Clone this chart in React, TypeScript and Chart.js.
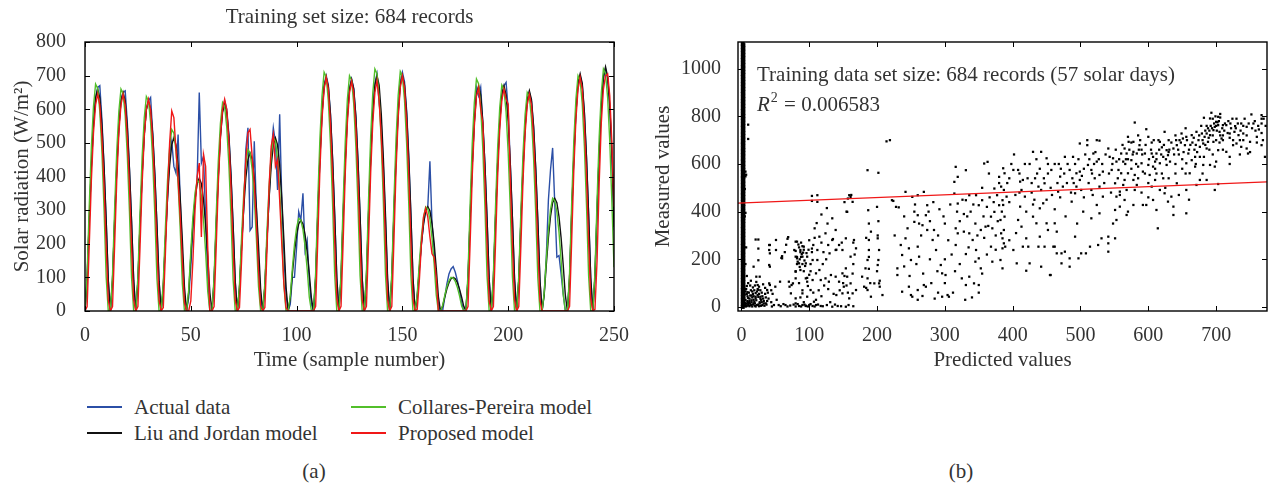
import React, { useEffect, useRef } from 'react';
import { Chart, registerables } from 'chart.js';

Chart.register(...registerables);

const FONT = '"Liberation Serif", "Times New Roman", serif';
const TEXT = '#333333';
const LABEL_SIZE = 21;
const TICK_SIZE = 20;

// ---------------- Panel (a) data: solar radiation per sample ----------------
const A_TITLE = 'Training set size: 684 records';
const A_X_TITLE = 'Time (sample number)';
const A_Y_TITLE = 'Solar radiation (W/m²)';
const A_X_TICKS = [0, 50, 100, 150, 200, 250];
const A_Y_TICKS = [0, 100, 200, 300, 400, 500, 600, 700, 800];
const SAMPLES = Array.from({ length: 251 }, (_, i) => i);

const ACTUAL = [
  0, 100, 270, 430, 555, 635, 665, 670, 570, 430, 270, 90,
  0, 92, 268, 425, 548, 628, 650, 655, 560, 425, 268, 92,
  0, 88, 256, 406, 525, 600, 625, 635, 530, 406, 256, 88,
  0, 70, 210, 335, 470, 505, 430, 410, 525, 330, 170, 30,
  0, 40, 130, 250, 330, 390, 650, 440, 460, 280, 100, 0,
  0, 88, 256, 406, 525, 600, 625, 600, 525, 406, 256, 88,
  0, 66, 193, 306, 480, 545, 240, 250, 505, 300, 150, 40,
  0, 72, 211, 335, 470, 545, 500, 360, 585, 330, 170, 50,
  0, 20, 100, 100, 190, 295, 270, 350, 180, 210, 90, 20,
  0, 98, 287, 455, 588, 672, 700, 672, 588, 455, 287, 98,
  0, 97, 283, 449, 580, 662, 690, 662, 580, 449, 283, 97,
  0, 99, 289, 458, 592, 677, 705, 620, 560, 430, 270, 90,
  0, 99, 291, 462, 596, 682, 710, 682, 596, 462, 291, 99,
  0, 40, 120, 200, 260, 300, 310, 445, 260, 180, 90, 20,
  0, 0, 40, 80, 110, 125, 132, 115, 90, 60, 25, 0,
  0, 94, 275, 436, 563, 665, 640, 665, 560, 436, 275, 94,
  0, 94, 275, 436, 563, 643, 670, 680, 600, 436, 275, 94,
  0, 91, 267, 423, 546, 624, 650, 624, 546, 423, 267, 91,
  0, 50, 160, 330, 420, 485, 320, 160, 165, 110, 50, 0,
  0, 98, 287, 455, 588, 672, 700, 672, 588, 455, 287, 98,
  0, 101, 295, 468, 605, 691, 720, 691, 605, 468, 240,
];

const LIU_JORDAN = [
  0, 92, 271, 429, 554, 634, 660, 634, 554, 429, 271, 92,
  0, 91, 267, 423, 546, 624, 650, 624, 546, 423, 267, 91,
  0, 88, 256, 406, 525, 600, 625, 600, 525, 406, 256, 88,
  0, 72, 211, 335, 433, 494, 515, 494, 433, 335, 211, 72,
  0, 55, 162, 257, 332, 379, 395, 379, 332, 257, 162, 55,
  0, 86, 252, 400, 517, 590, 615, 590, 517, 400, 252, 86,
  0, 66, 193, 306, 395, 451, 470, 451, 395, 306, 193, 66,
  0, 72, 211, 335, 433, 494, 515, 494, 433, 335, 211, 72,
  0, 38, 111, 176, 227, 259, 270, 259, 227, 176, 111, 38,
  0, 97, 285, 452, 584, 667, 695, 667, 584, 452, 285, 97,
  0, 96, 282, 447, 578, 660, 688, 660, 578, 447, 282, 96,
  0, 98, 287, 455, 588, 672, 700, 672, 588, 455, 287, 98,
  0, 98, 287, 455, 588, 672, 700, 672, 588, 455, 287, 98,
  0, 43, 127, 202, 260, 298, 310, 298, 260, 202, 127, 43,
  0, 14, 41, 65, 84, 96, 100, 96, 84, 65, 41, 14,
  0, 94, 275, 436, 563, 643, 670, 643, 563, 436, 275, 94,
  0, 94, 275, 436, 563, 643, 670, 643, 563, 436, 275, 94,
  0, 92, 269, 426, 550, 629, 655, 629, 550, 426, 269, 92,
  0, 47, 137, 218, 281, 322, 335, 322, 281, 218, 137, 47,
  0, 99, 289, 458, 592, 677, 705, 677, 592, 458, 289, 99,
  0, 102, 298, 472, 610, 697, 726, 697, 610, 472, 250,
];

const COLLARES_PEREIRA = [
  0, 108, 311, 486, 608, 675, 662, 594, 473, 304, 101, 0,
  0, 106, 304, 475, 594, 660, 647, 581, 462, 297, 99, 0,
  0, 102, 293, 459, 574, 638, 625, 561, 447, 287, 96, 0,
  0, 86, 248, 389, 486, 540, 529, 475, 378, 243, 81, 0,
  0, 62, 179, 281, 351, 390, 382, 343, 273, 176, 59, 0,
  0, 99, 285, 446, 558, 620, 608, 546, 434, 279, 93, 0,
  0, 77, 221, 346, 432, 480, 470, 422, 336, 216, 72, 0,
  0, 82, 237, 371, 464, 515, 505, 453, 361, 232, 77, 0,
  0, 44, 127, 198, 248, 275, 270, 242, 193, 124, 41, 0,
  0, 114, 327, 511, 639, 710, 696, 625, 497, 320, 107, 0,
  0, 112, 322, 504, 630, 700, 686, 616, 490, 315, 105, 0,
  0, 115, 331, 518, 648, 720, 706, 634, 504, 324, 108, 0,
  0, 114, 328, 513, 641, 712, 698, 627, 498, 320, 107, 0,
  0, 50, 143, 223, 279, 310, 304, 273, 217, 140, 47, 0,
  0, 16, 46, 72, 90, 100, 98, 88, 70, 45, 15, 0,
  0, 110, 317, 497, 621, 690, 676, 607, 483, 311, 104, 0,
  0, 108, 309, 484, 605, 672, 659, 591, 470, 302, 101, 0,
  0, 104, 299, 468, 585, 650, 637, 572, 455, 293, 98, 0,
  0, 54, 154, 241, 302, 335, 328, 295, 235, 151, 50, 0,
  0, 112, 322, 504, 630, 700, 686, 616, 490, 315, 105, 0,
  0, 115, 331, 518, 648, 720, 706, 634, 504, 324, 130,
];

const PROPOSED = [
  0, 13, 194, 387, 529, 613, 645, 613, 516, 374, 194, 32,
  0, 13, 194, 387, 529, 613, 645, 613, 516, 374, 194, 32,
  0, 13, 189, 378, 517, 599, 630, 599, 504, 365, 189, 32,
  0, 10, 170, 350, 500, 595, 575, 480, 390, 280, 150, 25,
  0, 0, 30, 150, 300, 400, 440, 220, 465, 430, 190, 0,
  0, 13, 189, 378, 517, 599, 630, 599, 504, 365, 189, 32,
  0, 10, 150, 320, 450, 530, 540, 460, 380, 260, 120, 15,
  0, 10, 180, 370, 490, 525, 430, 450, 330, 200, 80, 10,
  0, 0, 0, 0, 0, 0, 0, 0, 0, 0, 0, 0,
  0, 14, 209, 417, 570, 660, 695, 660, 556, 403, 209, 35,
  0, 14, 205, 410, 560, 649, 683, 649, 546, 396, 205, 34,
  0, 14, 205, 410, 560, 650, 685, 625, 520, 390, 205, 34,
  0, 14, 210, 420, 574, 665, 700, 665, 560, 406, 210, 35,
  0, 5, 90, 200, 280, 305, 280, 220, 170, 160, 100, 0,
  0, 0, 0, 0, 0, 0, 0, 0, 0, 0, 0, 0,
  0, 13, 200, 400, 550, 640, 665, 600, 560, 390, 200, 30,
  0, 13, 198, 396, 541, 627, 660, 630, 615, 390, 198, 33,
  0, 13, 194, 387, 529, 613, 645, 613, 516, 374, 194, 32,
  0, 0, 0, 0, 0, 0, 0, 0, 0, 0, 0, 0,
  0, 14, 209, 417, 570, 660, 695, 660, 556, 403, 209, 35,
  0, 5, 150, 380, 560, 660, 700, 705, 640, 500, 310,
];

const A_SERIES = [
  { label: 'Actual data', values: ACTUAL, color: '#2b4fa6', order: 4 },
  { label: 'Liu and Jordan model', values: LIU_JORDAN, color: '#111111', order: 3 },
  { label: 'Collares-Pereira model', values: COLLARES_PEREIRA, color: '#52bf2a', order: 2 },
  { label: 'Proposed model', values: PROPOSED, color: '#f01818', order: 1 },
];

// ---------------- Panel (b) data: measured vs predicted ----------------
const B_X_TITLE = 'Predicted values';
const B_Y_TITLE = 'Measured values';
const B_X_TICKS = [0, 100, 200, 300, 400, 500, 600, 700];
const B_Y_TICKS = [0, 200, 400, 600, 800, 1000];
const B_NOTE = 'Training data set size: 684 records (57 solar days)';
const B_R2 = '0.006583';
const FIT_LINE = [[-5, 436], [775, 525]];

// records whose prediction is ~0 (dense vertical column)
const COLUMN_PTS = [
  [2, 0], [2, 12], [2, 27], [2, 41], [2, 55], [2, 70], [2, 83], [2, 98], [2, 112], [2, 126],
  [2, 141], [2, 155], [2, 169], [2, 184], [2, 197], [2, 212], [2, 226], [2, 240], [2, 255], [2, 268],
  [2, 283], [2, 297], [2, 311], [2, 326], [2, 339], [2, 354], [2, 368], [2, 382], [2, 397], [2, 410],
  [2, 425], [2, 439], [2, 453], [2, 468], [2, 481], [2, 496], [2, 510], [2, 524], [2, 539], [2, 552],
  [2, 567], [2, 581], [2, 595], [2, 610], [2, 623], [2, 638], [2, 652], [2, 666], [2, 681], [2, 694],
  [2, 709], [2, 723], [2, 737], [2, 752], [2, 765], [2, 780], [2, 794], [2, 808], [2, 823], [2, 836],
  [2, 851], [2, 865], [2, 879], [2, 894], [2, 907], [2, 922], [2, 936], [2, 950], [2, 965], [2, 978],
  [2, 993], [2, 1007], [2, 1021], [2, 1036], [2, 1049], [2, 1064], [2, 1078], [2, 1092], [2, 1105],
  [3, 6], [3, 20], [3, 34], [3, 48], [3, 62], [3, 76], [3, 90], [3, 105], [3, 119], [3, 133],
  [3, 148], [3, 162], [3, 176], [3, 190], [3, 204], [3, 219], [3, 233], [3, 247], [3, 261], [3, 275],
  [3, 290], [3, 304], [3, 318], [3, 332], [3, 347], [3, 361], [3, 375], [3, 390], [3, 403], [3, 418],
  [3, 432], [3, 446], [3, 460], [3, 474], [3, 489], [3, 503], [3, 517], [3, 531], [3, 545], [3, 560],
  [3, 574], [3, 588], [3, 602], [3, 616], [3, 631], [3, 645], [3, 659], [3, 673], [3, 688], [3, 702],
  [3, 716], [3, 730], [3, 744], [3, 759], [3, 773], [3, 787], [3, 801], [3, 815], [3, 830], [3, 844],
  [3, 858], [3, 872], [3, 886], [3, 901], [3, 915], [3, 929], [3, 943], [3, 957], [3, 972], [3, 986],
  [3, 1000], [3, 1014], [3, 1028], [3, 1043], [3, 1057], [3, 1071], [3, 1085], [3, 1099],
];

const CLOUD_PTS = [
  // near origin
  [8, 5], [10, 12], [12, 3], [15, 20], [6, 30], [9, 45], [14, 8], [18, 15], [20, 5], [22, 28], [11, 60], [7, 75],
  [16, 40], [25, 10], [28, 35], [30, 60], [13, 90], [19, 70], [24, 50], [33, 15], [35, 80], [26, 85], [10, 100],
  [21, 2], [17, 55], [29, 5], [36, 40], [38, 25], [32, 95], [5, 18], [12, 35], [23, 65], [27, 20], [31, 45],
  [8, 55], [14, 70], [20, 90], [34, 5], [39, 60], [16, 2], [6, 10], [9, 25], [4, 40], [7, 2], [11, 18], [18, 30],
  [26, 3], [15, 48],
  [3, 5], [5, 8], [7, 14], [9, 20], [11, 6], [13, 15], [15, 28], [17, 10], [19, 22], [21, 36], [23, 8], [25, 42],
  [27, 15], [29, 30], [31, 8], [33, 25], [13, 48], [9, 62], [5, 52], [17, 82], [21, 58], [24, 75], [28, 70],
  [30, 20], [35, 55], [12, 25], [18, 45], [6, 65], [4, 85], [14, 110], [22, 105], [8, 88], [26, 55], [32, 35],
  [37, 10], [40, 35], [44, 20], [46, 55], [48, 8], [52, 30], [44, 70], [3, 28], [10, 38], [16, 65], [20, 15],
  [10, 765], [10, 705], [6, 568], [6, 548], [5, 495], [6, 395], [5, 380], [7, 250], [8, 130], [7, 555], [6, 180],
  // 15 - 110
  [21, 283], [25, 283], [25, 245], [42, 260], [42, 225], [42, 169], [42, 92], [25, 196], [18, 169], [22, 127],
  [27, 127], [24, 92], [25, 72], [50, 85], [57, 106], [59, 206], [60, 213], [64, 230], [66, 261], [69, 293],
  [71, 85], [74, 92], [76, 99], [80, 15], [80, 2], [80, 120], [80, 150], [82, 180], [82, 210], [80, 235],
  [85, 250], [87, 230], [88, 270], [90, 255], [92, 240], [88, 210], [90, 180], [92, 150], [95, 120], [85, 100],
  [90, 70], [87, 40], [92, 20], [95, 5], [97, 122], [102, 150], [100, 135], [102, 180], [104, 230], [104, 245],
  [106, 260], [108, 330], [111, 352], [118, 388], [126, 415], [104, 466], [104, 445],
  [60, 204], [68, 286], [78, 239], [80, 211], [82, 204], [87, 239], [90, 211], [92, 253], [80, 274], [82, 274],
  [85, 183], [87, 155], [80, 148], [95, 183], [97, 106], [70, 106], [73, 57], [80, 36], [90, 57], [97, 43],
  [107, 22], [102, 71], [51, 281], [51, 239], [41, 176], [41, 239], [41, 260], [41, 99], [38, 71], [21, 43],
  [28, 43], [36, 15], [55, 8], [65, 8], [85, 4], [90, 8], [95, 4], [100, 8], [105, 4], [110, 8], [117, 4],
  [134, 1], [142, 4], [154, 1], [165, 3],
  [45, 2], [58, 3], [62, 12], [68, 2], [72, 6], [77, 10], [83, 12], [88, 2], [93, 10], [98, 2], [102, 12],
  [108, 2], [113, 10], [120, 3], [126, 8], [138, 10], [147, 3], [158, 8],
  [83, 190], [86, 200], [89, 222], [91, 228], [84, 262], [93, 195], [96, 226], [99, 240], [86, 168], [94, 172],
  [98, 88], [106, 60], [110, 30], [114, 70], [118, 45], [122, 90], [128, 75], [131, 20], [136, 55], [115, 155],
  [120, 180], [125, 200], [130, 225], [118, 270], [108, 290], [100, 280],
  // 110 - 220
  [110, 141], [105, 113], [117, 113], [124, 120], [129, 106], [132, 134], [139, 127], [144, 106], [149, 141],
  [154, 162], [156, 127], [161, 99], [151, 85], [149, 57], [164, 57], [159, 36], [169, 71], [178, 127], [183, 162],
  [186, 197], [188, 239], [188, 281], [191, 316], [188, 350], [187, 406], [191, 43], [186, 71], [181, 85],
  [196, 99], [201, 176], [202, 197], [203, 239], [201, 288], [203, 99], [204, 85], [208, 50], [139, 323],
  [144, 260], [149, 239], [154, 288], [161, 211], [166, 281], [169, 246], [139, 239], [134, 281], [124, 309],
  [112, 239], [112, 197], [115, 295], [105, 197], [97, 211], [112, 469], [112, 441], [127, 350], [134, 372],
  [159, 469], [161, 462], [164, 441], [156, 399], [186, 574], [202, 563], [214, 695], [219, 700], [224, 445],
  [121, 230], [128, 260], [135, 285], [140, 240], [148, 270], [140, 50], [145, 70], [150, 100], [152, 130],
  [155, 90], [157, 60], [152, 440], [157, 455], [162, 470], [155, 400], [164, 140], [165, 180], [167, 220],
  [165, 270], [184, 290], [184, 80], [186, 120], [188, 160], [188, 210], [190, 100], [200, 420], [202, 360],
  [201, 300], [200, 150], [204, 110],
  // 220 - 390
  [222, 448], [232, 418], [242, 483], [252, 462], [260, 469], [269, 483], [274, 427], [272, 385], [260, 385],
  [255, 357], [267, 343], [274, 323], [242, 288], [247, 246], [237, 218], [250, 197], [260, 253], [262, 211],
  [230, 162], [230, 134], [247, 85], [250, 50], [260, 71], [269, 92], [272, 85], [237, 64], [282, 281],
  [284, 323], [287, 239], [294, 176], [296, 141], [301, 134], [296, 43], [306, 43], [252, 43], [267, 46], [304, 50],
  [314, 525], [316, 588], [331, 574], [319, 546], [314, 476], [319, 434], [331, 448], [336, 469], [346, 469],
  [355, 448], [350, 427], [316, 330], [319, 309], [328, 316], [336, 309], [341, 281], [353, 323], [360, 337],
  [316, 260], [331, 222], [346, 239], [350, 204], [353, 162], [336, 127], [331, 92], [343, 99], [350, 92],
  [358, 602], [363, 609], [365, 560], [373, 497], [380, 546], [377, 469], [380, 427], [373, 399], [385, 448],
  [382, 365], [387, 323], [385, 288], [389, 253], [368, 379], [370, 330], [368, 253], [370, 190], [382, 197],
  [385, 162], [226, 300], [235, 260], [245, 330], [255, 400], [265, 300], [278, 360], [290, 300], [298, 380],
  [305, 280], [310, 220], [322, 360], [328, 390], [338, 400], [345, 350], [358, 290], [362, 420], [375, 300],
  [380, 520], [278, 200], [289, 150], [300, 100], [312, 60], [322, 180], [340, 40], [355, 500], [366, 460],
  [228, 420], [240, 380], [256, 430], [262, 350], [276, 400], [283, 440], [292, 410], [300, 350], [308, 430],
  [318, 400], [326, 450], [333, 380], [342, 430], [348, 300], [357, 380], [364, 340], [372, 440], [378, 360],
  [384, 400], [240, 170], [248, 130], [258, 180], [268, 140], [280, 100], [290, 60], [300, 200], [315, 150],
  [325, 120], [335, 250], [345, 190], [355, 140], [362, 220], [375, 240], [260, 30], [285, 35], [330, 30], [350, 60],
  // 380 - 560
  [386, 582], [388, 561], [383, 505], [387, 491], [391, 463], [386, 428], [388, 379], [383, 309], [387, 267],
  [385, 246], [401, 575], [408, 575], [411, 526], [415, 533], [413, 491], [418, 463], [411, 421], [408, 365],
  [413, 337], [420, 288], [415, 253], [423, 253], [430, 651], [442, 651], [433, 540], [438, 505], [442, 491],
  [447, 519], [450, 624], [457, 575], [445, 435], [440, 414], [430, 379], [435, 351], [450, 351], [452, 323],
  [440, 295], [447, 253], [462, 351], [465, 316], [462, 253], [465, 225], [455, 134], [472, 183], [472, 225],
  [477, 630], [470, 547], [474, 505], [467, 484], [484, 575], [489, 630], [494, 561], [499, 686], [492, 477],
  [494, 505], [499, 533], [501, 491], [487, 442], [504, 400], [499, 568], [510, 700], [510, 679], [511, 596],
  [519, 644], [524, 700], [528, 698], [524, 610], [516, 575], [521, 540], [528, 554], [533, 568], [516, 491],
  [528, 505], [533, 463], [524, 428], [516, 372], [528, 393], [501, 225], [508, 225], [514, 253], [526, 260],
  [541, 295], [541, 267], [541, 232], [551, 288], [484, 204], [484, 169], [492, 295], [541, 665], [543, 630],
  [548, 624], [553, 610], [556, 575], [546, 575], [551, 519], [560, 644], [420, 152], [456, 134], [406, 183],
  [401, 239], [425, 183], [438, 253], [442, 169], [460, 253], [477, 232], [497, 204], [531, 288], [551, 407],
  [553, 365], [395, 540], [404, 470], [425, 600], [428, 520], [436, 560], [452, 600], [458, 470], [468, 600],
  [480, 520], [486, 480], [505, 460], [512, 520], [518, 470], [535, 520], [545, 480], [555, 540], [558, 470],
  [420, 400], [432, 450], [462, 410], [478, 380], [495, 350], [548, 350], [405, 310], [395, 280],
  [392, 520], [398, 600], [402, 640], [410, 560], [418, 600], [422, 540], [428, 480], [435, 620], [440, 580],
  [446, 540], [452, 560], [456, 500], [462, 600], [466, 520], [471, 580], [476, 560], [481, 600], [488, 540],
  [492, 600], [497, 620], [502, 550], [507, 640], [513, 620], [517, 560], [522, 650], [527, 620], [532, 600],
  [537, 640], [542, 560], [547, 600], [552, 660], [557, 620], [520, 600], [505, 580], [490, 520], [470, 460],
  [450, 450], [430, 430], [410, 480], [395, 440],
  // 560 - 775
  [565, 665], [568, 644], [570, 714], [571, 693], [563, 610], [560, 561], [565, 533], [570, 561], [563, 512],
  [558, 484], [568, 491], [553, 463], [558, 421], [565, 449], [570, 400], [575, 616], [580, 774], [578, 693],
  [578, 651], [583, 644], [587, 679], [585, 589], [590, 603], [580, 554], [578, 533], [583, 512], [580, 491],
  [592, 568], [597, 746], [600, 714], [595, 644], [605, 644], [607, 630], [600, 596], [607, 589], [612, 644],
  [615, 700], [617, 693], [602, 554], [610, 533], [617, 603], [622, 630], [624, 735], [627, 658], [629, 637],
  [632, 610], [637, 665], [634, 463], [637, 421], [637, 386], [592, 428], [597, 428], [605, 505], [612, 407],
  [614, 330], [607, 449], [627, 596], [642, 679], [646, 700], [649, 728], [651, 707], [654, 679], [656, 714],
  [659, 644], [664, 721], [656, 603], [664, 616], [669, 630], [656, 393], [671, 735], [674, 700], [676, 672],
  [679, 728], [681, 686], [683, 714], [686, 728], [688, 693], [691, 721], [696, 742], [698, 756], [700, 777],
  [703, 798], [703, 763], [693, 815], [682, 794], [691, 791], [705, 735], [708, 707], [696, 693], [686, 665],
  [676, 630], [681, 596], [691, 596], [698, 589], [703, 658], [698, 491], [703, 516], [710, 763], [715, 763],
  [720, 728], [725, 700], [728, 759], [733, 721], [737, 770], [745, 665], [747, 644], [752, 808], [755, 770],
  [767, 805], [767, 770], [767, 679], [715, 651], [720, 630], [730, 686], [735, 700], [568, 386], [578, 428],
  [629, 442], [617, 491], [624, 477], [642, 519], [656, 491], [671, 512], [676, 533], [686, 533], [669, 589],
  [661, 561], [725, 679], [737, 672], [750, 693], [760, 714], [769, 700], [772, 630], [745, 756], [740, 728],
  [767, 730], [767, 790], [588, 700], [595, 560], [610, 580], [620, 560], [630, 540], [640, 600], [645, 640],
  [650, 580], [660, 660], [665, 690], [672, 650], [678, 760], [688, 750], [695, 720], [700, 700], [705, 690],
  [710, 720], [712, 740], [718, 780], [722, 750], [727, 735], [730, 790], [740, 760], [745, 720], [758, 740],
  [762, 760], [690, 660], [695, 640], [710, 660], [655, 750], [640, 720], [630, 700], [620, 670], [605, 690],
  [585, 720], [575, 690], [566, 600], [600, 460], [622, 540], [645, 470], [660, 450], [680, 560], [700, 610],
  [720, 600], [735, 640],
  [562, 680], [567, 620], [572, 660], [577, 640], [582, 600], [586, 660], [591, 640], [596, 680], [601, 620],
  [604, 660], [608, 700], [612, 620], [616, 660], [619, 640], [623, 680], [626, 620], [631, 660], [634, 690],
  [638, 640], [641, 700], [644, 660], [648, 690], [652, 650], [657, 700], [662, 680], [667, 710], [670, 680],
  [675, 720], [680, 700], [684, 740], [689, 710], [692, 760], [697, 770], [701, 740], [704, 780], [706, 810],
  [709, 750], [713, 770], [717, 730], [721, 770], [724, 790], [729, 750], [732, 770], [736, 740], [742, 790],
  [748, 770], [753, 750], [757, 780], [763, 745], [770, 790], [773, 760], [699, 800], [695, 790], [702, 775],
  [706, 795], [700, 760], [694, 750], [690, 740], [686, 760], [710, 700], [720, 710], [740, 700], [750, 650],
  [760, 690], [682, 630], [670, 600], [655, 560], [640, 560], [625, 500], [612, 560], [600, 520], [590, 480],
  [585, 540], [575, 580], [570, 620], [590, 660], [610, 610], [630, 650], [650, 620], [668, 660], [684, 680],
  [706, 720],
];

// ---------------- shared plugins ----------------
const framePlugin = {
  id: 'frame',
  afterDatasetsDraw(chart: any, _args: any, opts: any) {
    const { ctx, chartArea, scales } = chart;
    const { left, right, top, bottom } = chartArea;
    const L = 5;
    ctx.save();
    ctx.strokeStyle = '#000';
    ctx.lineWidth = 1;
    ctx.beginPath();
    for (const v of opts.xTicks) {
      const px = Math.round(scales.x.getPixelForValue(v)) + 0.5;
      ctx.moveTo(px, bottom);
      ctx.lineTo(px, bottom - L);
      ctx.moveTo(px, top);
      ctx.lineTo(px, top + L);
    }
    for (const v of opts.yTicks) {
      const py = Math.round(scales.y.getPixelForValue(v)) + 0.5;
      ctx.moveTo(left, py);
      ctx.lineTo(left + L, py);
      ctx.moveTo(right, py);
      ctx.lineTo(right - L, py);
    }
    ctx.stroke();
    ctx.lineWidth = 1.4;
    ctx.strokeRect(left, top, right - left, bottom - top);
    ctx.restore();
  },
};

const notePlugin = {
  id: 'note',
  afterDraw(chart: any, _args: any, opts: any) {
    if (!opts || !opts.show) return;
    const ctx = chart.ctx;
    const x = chart.chartArea.left + opts.dx;
    ctx.save();
    ctx.fillStyle = TEXT;
    ctx.textAlign = 'left';
    ctx.textBaseline = 'alphabetic';
    ctx.font = `${LABEL_SIZE}px ${FONT}`;
    ctx.fillText(B_NOTE, x, opts.y1);
    ctx.font = `italic ${LABEL_SIZE}px ${FONT}`;
    ctx.fillText('R', x, opts.y2);
    const rw = ctx.measureText('R').width;
    ctx.font = `14px ${FONT}`;
    ctx.fillText('2', x + rw + 1, opts.y2 - 9);
    const sw = ctx.measureText('2').width;
    ctx.font = `${LABEL_SIZE}px ${FONT}`;
    ctx.fillText(' = ' + B_R2, x + rw + sw + 2, opts.y2);
    ctx.restore();
  },
};

const tickFont = { family: FONT, size: TICK_SIZE };
const labelFont = { family: FONT, size: LABEL_SIZE };
const plainNumber = (v: any) => String(v);

function fixedTicks(list: number[]) {
  return (scale: any) => {
    scale.ticks = list.map((v) => ({ value: v }));
  };
}

function PanelA() {
  const ref = useRef<HTMLCanvasElement>(null);
  useEffect(() => {
    const chart = new Chart(ref.current as HTMLCanvasElement, {
      type: 'line',
      data: {
        datasets: A_SERIES.map((s) => ({
          label: s.label,
          data: SAMPLES.map((x, i) => ({ x, y: s.values[i] })),
          borderColor: s.color,
          borderWidth: 1.4,
          pointRadius: 0,
          tension: 0,
          fill: false,
          order: s.order,
        })),
      },
      options: {
        animation: false,
        responsive: false,
        events: [],
        layout: { padding: { left: 0, right: 26, top: 0, bottom: 0 } },
        plugins: {
          legend: { display: false },
          tooltip: { enabled: false },
          title: {
            display: true,
            fullSize: false,
            text: A_TITLE,
            color: TEXT,
            font: { family: FONT, size: LABEL_SIZE, weight: 'normal', lineHeight: 1.2 },
            padding: { top: 4.4, bottom: 12.4 },
          },
          frame: { xTicks: A_X_TICKS, yTicks: A_Y_TICKS },
        } as any,
        scales: {
          x: {
            type: 'linear',
            min: 0,
            max: 250,
            afterBuildTicks: fixedTicks(A_X_TICKS),
            afterFit: (s: any) => { s.height = 69; },
            grid: { display: false },
            border: { display: false },
            ticks: { color: TEXT, font: tickFont, padding: 5, maxRotation: 0, callback: plainNumber },
            title: { display: true, text: A_X_TITLE, color: TEXT, font: labelFont, padding: { top: 0, bottom: 7.4 } },
          },
          y: {
            type: 'linear',
            min: 0,
            max: 800,
            afterBuildTicks: fixedTicks(A_Y_TICKS),
            afterFit: (s: any) => { s.width = 85; },
            grid: { display: false },
            border: { display: false },
            ticks: { color: TEXT, font: tickFont, padding: 11, callback: plainNumber },
            title: { display: true, text: A_Y_TITLE, color: TEXT, font: labelFont, padding: { top: 10, bottom: 0 } },
          },
        },
      } as any,
      plugins: [framePlugin],
    });
    return () => chart.destroy();
  }, []);
  return <canvas ref={ref} width={640} height={380} style={{ position: 'absolute', left: 0, top: 0 }} />;
}

function PanelB() {
  const ref = useRef<HTMLCanvasElement>(null);
  useEffect(() => {
    const chart = new Chart(ref.current as HTMLCanvasElement, {
      type: 'scatter',
      data: {
        datasets: [
          {
            type: 'line',
            label: 'Linear fit',
            data: FIT_LINE.map(([x, y]) => ({ x, y })),
            borderColor: '#f01818',
            borderWidth: 1.3,
            pointRadius: 0,
            order: 0,
          },
          {
            label: 'Records',
            data: CLOUD_PTS.map(([x, y]) => ({ x, y })),
            backgroundColor: '#000',
            borderWidth: 0,
            pointStyle: 'rect',
            pointRadius: 1.6,
            order: 1,
          },
          {
            label: 'Night records',
            data: COLUMN_PTS.map(([x, y]) => ({ x, y })),
            backgroundColor: '#000',
            borderWidth: 0,
            pointStyle: 'rect',
            pointRadius: 2.8,
            order: 2,
          },
        ] as any,
      },
      options: {
        animation: false,
        responsive: false,
        events: [],
        layout: { padding: { left: 0, right: 6, top: 42, bottom: 0 } },
        plugins: {
          legend: { display: false },
          tooltip: { enabled: false },
          frame: { xTicks: B_X_TICKS, yTicks: B_Y_TICKS },
          note: { show: true, dx: 19, y1: 81, y2: 111 },
        } as any,
        scales: {
          x: {
            type: 'linear',
            min: -5,
            max: 775,
            afterBuildTicks: fixedTicks(B_X_TICKS),
            afterFit: (s: any) => { s.height = 69; },
            grid: { display: false },
            border: { display: false },
            ticks: { color: TEXT, font: tickFont, padding: 5, maxRotation: 0, callback: plainNumber },
            title: { display: true, text: B_X_TITLE, color: TEXT, font: labelFont, padding: { top: 0, bottom: 7.4 } },
          },
          y: {
            type: 'linear',
            min: -17,
            max: 1112,
            afterBuildTicks: fixedTicks(B_Y_TICKS),
            afterFit: (s: any) => { s.width = 98; },
            grid: { display: false },
            border: { display: false },
            ticks: { color: TEXT, font: tickFont, padding: 9, callback: plainNumber },
            title: { display: true, text: B_Y_TITLE, color: TEXT, font: labelFont, padding: { top: 11, bottom: 0 } },
          },
        },
      } as any,
      plugins: [framePlugin, notePlugin],
    });
    return () => chart.destroy();
  }, []);
  return <canvas ref={ref} width={633} height={380} style={{ position: 'absolute', left: 640, top: 0 }} />;
}

const LEGEND_COLS = [
  { x: 87, items: [A_SERIES[0], A_SERIES[1]] },
  { x: 351, items: [A_SERIES[2], A_SERIES[3]] },
];
const LEGEND_ROWS_Y = [407, 433];

export default function App() {
  const textStyle: React.CSSProperties = { fontFamily: FONT, fontSize: LABEL_SIZE, color: TEXT, lineHeight: '24px', whiteSpace: 'nowrap' };
  return (
    <div style={{ position: 'absolute', left: 0, top: 0, width: 1273, height: 486, background: '#fff', overflow: 'hidden' }}>
      <PanelA />
      <PanelB />
      {LEGEND_COLS.map((col, ci) =>
        col.items.map((s, ri) => (
          <div key={`${ci}-${ri}`} style={{ position: 'absolute', left: col.x, top: LEGEND_ROWS_Y[ri] - 12, height: 24, display: 'flex', alignItems: 'center' }}>
            <span style={{ display: 'inline-block', width: 35, height: 2, background: s.color, marginRight: 12 }} />
            <span style={textStyle}>{s.label}</span>
          </div>
        ))
      )}
      <div style={{ ...textStyle, position: 'absolute', left: 0, width: 628, top: 459, textAlign: 'center' }}>(a)</div>
      <div style={{ ...textStyle, position: 'absolute', left: 640, width: 642, top: 459, textAlign: 'center' }}>(b)</div>
    </div>
  );
}
